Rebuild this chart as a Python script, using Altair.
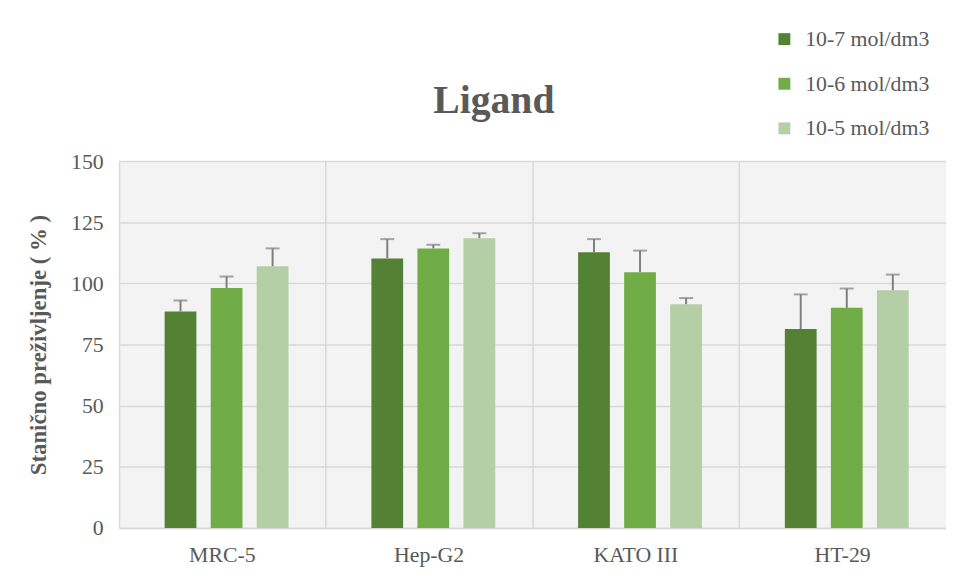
import altair as alt
import pandas as pd

groups = ["MRC-5", "Hep-G2", "KATO III", "HT-29"]
series = ["10-7 mol/dm3", "10-6 mol/dm3", "10-5 mol/dm3"]
colors = ["#548235", "#70ad47", "#b4cfa6"]

# values per group, per series (in series order)
means = {
    "MRC-5":    [88.5, 98.1, 107.0],
    "Hep-G2":   [110.2, 114.3, 118.5],
    "KATO III": [112.7, 104.6, 91.5],
    "HT-29":    [81.3, 90.0, 97.2],
}
errs = {
    "MRC-5":    [4.5, 4.7, 7.3],
    "Hep-G2":   [7.9, 1.5, 2.0],
    "KATO III": [5.4, 8.8, 2.5],
    "HT-29":    [14.2, 7.9, 6.4],
}

rows = []
for g in groups:
    for i, s in enumerate(series):
        rows.append({"group": g, "series": s, "value": means[g][i],
                     "top": means[g][i] + errs[g][i]})
df = pd.DataFrame(rows)

FONT = "Liberation Serif"
GREY = "#595959"

yscale = alt.Scale(domain=[0, 150], nice=False)

x = alt.X("group:N", sort=groups, title=None,
          scale=alt.Scale(paddingInner=0, paddingOuter=0),
          axis=alt.Axis(labelFont=FONT, labelFontSize=22, labelColor=GREY,
                        labelAngle=0, labelPadding=17, ticks=False,
                        grid=True, bandPosition=0, gridColor="#d9d9d9",
                        gridWidth=1.5, domainColor="#d9d9d9", domainWidth=1.5))
xo = alt.XOffset("series:N", sort=series,
                 scale=alt.Scale(paddingInner=0.31, paddingOuter=0.9, align=0.55))

bars = alt.Chart(df).mark_bar().encode(
    x=x,
    xOffset=xo,
    y=alt.Y("value:Q", title="Stanično preživljenje ( % )",
            scale=yscale,
            axis=alt.Axis(values=[0, 25, 50, 75, 100, 125, 150],
                          labelFont=FONT, labelFontSize=22, labelColor=GREY,
                          labelPadding=16, ticks=False, domain=False,
                          gridColor="#d9d9d9", gridWidth=1.5,
                          titleFont=FONT, titleFontSize=23, titleFontWeight="bold",
                          titleColor=GREY, titlePadding=20)),
    color=alt.Color("series:N", sort=series,
                    scale=alt.Scale(domain=series, range=colors),
                    legend=alt.Legend(title=None, orient="none", legendX=660,
                                      legendY=-134, symbolType="square",
                                      symbolSize=144, symbolStrokeWidth=0,
                                      labelFont=FONT, labelFontSize=22,
                                      labelColor=GREY, rowPadding=23,
                                      labelOffset=10)),
)

rules = alt.Chart(df).mark_rule(color="#7f7f7f", strokeWidth=2).encode(
    x=alt.X("group:N", sort=groups),
    xOffset=xo,
    y=alt.Y("value:Q", scale=yscale),
    y2="top:Q",
)

caps = alt.Chart(df).mark_tick(color="#7f7f7f", thickness=2, size=14,
                               orient="horizontal").encode(
    x=alt.X("group:N", sort=groups),
    xOffset=xo,
    y=alt.Y("top:Q", scale=yscale),
)

chart = alt.layer(bars, rules, caps).properties(
    width=834, height=370,
    padding={"left": 112, "top": 152, "right": 0, "bottom": 40},
    autosize=alt.AutoSizeParams(type="none"),
    title=alt.TitleParams("Ligand", font=FONT, fontSize=40, fontWeight="bold",
                          color=GREY, anchor="middle", dx=-39, offset=-126,
                          baseline="alphabetic"),
).configure_view(fill="#f3f3f3", stroke=None)

chart.save("out.html", embed_options={"renderer": "svg", "actions": False})
